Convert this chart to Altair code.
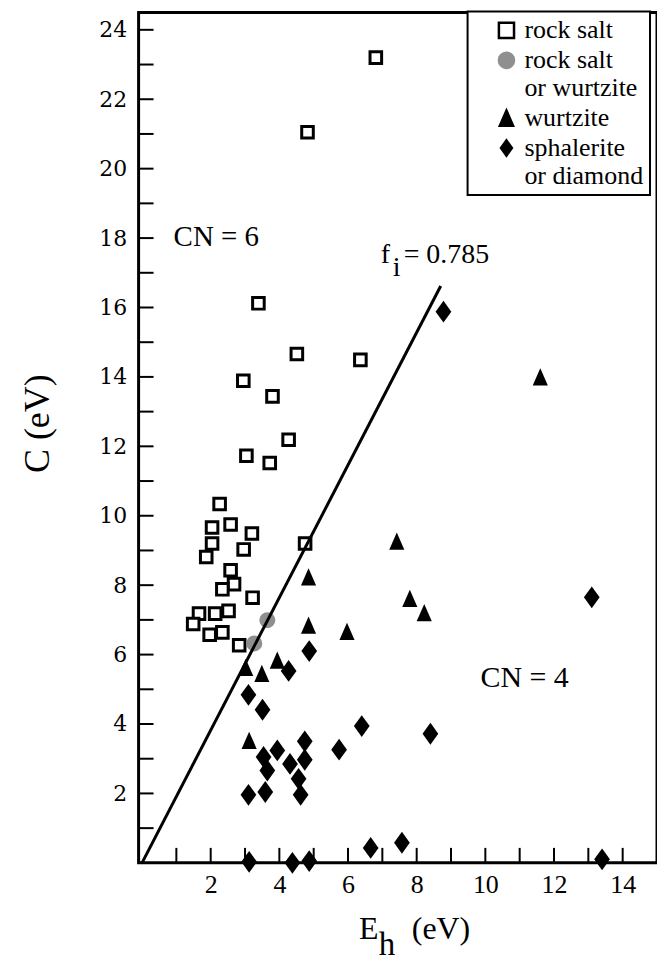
import altair as alt
import pandas as pd

# ---- data ----
rs_x = [6.81, 4.82, 3.39, 4.51, 6.36, 2.95, 3.80, 4.27, 3.04, 3.72, 2.26, 2.04, 2.58, 3.20, 2.04,
        4.75, 2.96, 1.87, 2.58, 2.68, 2.34, 3.22, 2.52, 2.13, 1.66, 1.49, 2.34, 1.97, 2.83]
rs_y = [23.2, 21.05, 16.12, 14.66, 14.49, 13.89, 13.44, 12.19, 11.73, 11.52, 10.34, 9.66, 9.75, 9.49, 9.20,
        9.20, 9.03, 8.81, 8.43, 8.03, 7.88, 7.64, 7.26, 7.18, 7.18, 6.88, 6.64, 6.57, 6.27]

rw_x = [3.65, 3.27]
rw_y = [6.99, 6.32]

wz_x = [4.85, 7.42, 7.80, 8.22, 4.85, 5.97, 3.94, 3.02, 3.49, 11.6, 3.12]
wz_y = [8.24, 9.27, 7.62, 7.21, 6.85, 6.67, 5.84, 5.63, 5.46, 14.0, 3.53]

sp_x = [8.78, 13.1, 4.87, 4.27, 3.10, 3.51, 6.40, 8.40, 4.74, 5.74, 3.94, 3.54, 4.74, 4.31, 3.65,
        4.56, 3.10, 3.59, 4.62, 6.66, 7.57, 3.12, 4.38, 4.87, 13.4]
sp_y = [15.88, 7.65, 6.10, 5.53, 4.84, 4.41, 3.94, 3.72, 3.50, 3.26, 3.24, 3.05, 2.97, 2.85, 2.66,
        2.42, 1.96, 2.04, 1.96, 0.43, 0.58, 0.03, 0.0, 0.05, 0.1]

types = ["rock salt", "rock salt|or wurtzite", "wurtzite", "sphalerite|or diamond"]

line_x = [0.0, 8.7]
line_y = [0.0, 16.62]

x_tick_vals = list(range(1, 15))
y_tick_vals = list(range(1, 25))
x_label_vals = [2, 4, 6, 8, 10, 12, 14]
y_label_vals = [2, 4, 6, 8, 10, 12, 14, 16, 18, 20, 22, 24]

rows = []
for xs_, ys_, t in [(rs_x, rs_y, types[0]), (rw_x, rw_y, types[1]),
                    (wz_x, wz_y, types[2]), (sp_x, sp_y, types[3])]:
    for a, b in zip(xs_, ys_):
        rows.append({"Eh": a, "C": b, "type": t})
df = pd.DataFrame(rows)

W, H = 520, 853
SERIF = "Liberation Serif"
xsc = alt.Scale(domain=[-0.1, 15.0], nice=False, zero=False)
ysc = alt.Scale(domain=[0, 24.5], nice=False, zero=False)

TRI = "M0,-1L0.875,1L-0.875,1Z"
DIA = "M0,-1L0.72,0L0,1L-0.72,0Z"
shape_range = ["square", "circle", TRI, DIA]
fill_range = ["white", "#8f8f8f", "black", "black"]
stroke_range = ["black", "#8f8f8f", "black", "black"]
mark_size = [135, 256, 300, 480]
mark_sw = [3, 0, 0, 0]

leg = alt.Legend(title=None, orient="none", legendX=330, legendY=-1,
                 labelExpr="split(datum.label, '|')")

x_enc = alt.X("Eh:Q", scale=xsc, axis=alt.Axis(values=x_label_vals, ticks=False, domain=False, grid=False,
                                               labelFont=SERIF, labelFontSize=26, labelColor="black",
                                               labelPadding=9, title=None))
y_enc = alt.Y("C:Q", scale=ysc, axis=alt.Axis(values=y_label_vals, ticks=False, domain=False, grid=False,
                                              labelFont="DejaVu Serif", labelFontSize=22, labelColor="black",
                                              labelPadding=12, title="C (eV)", titleFont=SERIF,
                                              titleFontSize=36, titleFontWeight="normal",
                                              titleColor="black", titlePadding=42, titleY=412))

point_layers = []
for i, t in enumerate(types):
    point_layers.append(
        alt.Chart(df).transform_filter(alt.datum.type == t).mark_point(
            filled=False, opacity=1, size=mark_size[i], strokeWidth=mark_sw[i]).encode(
            x=x_enc, y=y_enc,
            shape=alt.Shape("type:N", scale=alt.Scale(domain=types, range=shape_range), legend=leg),
            fill=alt.Fill("type:N", scale=alt.Scale(domain=types, range=fill_range), legend=leg),
            stroke=alt.Stroke("type:N", scale=alt.Scale(domain=types, range=stroke_range), legend=leg),
        )
    )

fit_line = alt.Chart(pd.DataFrame({"Eh": line_x, "C": line_y})).mark_line(
    color="black", strokeWidth=3).encode(x=alt.X("Eh:Q", scale=xsc), y=alt.Y("C:Q", scale=ysc))

xticks = alt.Chart(pd.DataFrame({"t": x_tick_vals})).mark_rule(color="black", strokeWidth=2).encode(
    x=alt.X("t:Q", scale=xsc), y=alt.value(H), y2=alt.value(H - 15))
yticks = alt.Chart(pd.DataFrame({"t": y_tick_vals})).mark_rule(color="black", strokeWidth=2).encode(
    y=alt.Y("t:Q", scale=ysc), x=alt.value(0), x2=alt.value(15))

one = pd.DataFrame({"a": [0]})

def txt(s, x, y, size):
    return alt.Chart(one).mark_text(text=s, font=SERIF, fontSize=size, align="left",
                                    baseline="alphabetic", color="black").encode(x=x, y=y)

annots = [
    txt("CN = 6", alt.datum(0.92), alt.datum(17.77), 29),
    txt("CN = 4", alt.datum(9.86), alt.datum(5.08), 30),
    txt("f", alt.datum(6.95), alt.datum(17.28), 28),
    txt("i", alt.datum(7.30), alt.datum(16.90), 28),
    txt("= 0.785", alt.datum(7.62), alt.datum(17.28), 28),
    txt("E", alt.value(221), alt.value(H + 76), 32),
    txt("h", alt.value(241), alt.value(H + 92), 33),
    txt("(eV)", alt.value(274), alt.value(H + 76), 32),
]

chart = alt.layer(*point_layers, fit_line, xticks, yticks, *annots).properties(
    width=W, height=H, padding={"left": 12, "top": 1, "right": 0, "bottom": 5}
).configure_view(stroke="black", strokeWidth=3).configure_legend(
    strokeWidth=2, strokeColor="black", fillColor="white", padding=6,
    labelFont=SERIF, labelFontSize=26, labelColor="black", labelOffset=5, labelLimit=300,
    symbolSize=230, symbolStrokeWidth=2.5, symbolOffset=20, rowPadding=4, cornerRadius=0
)

chart.save("out.html", embed_options={"renderer": "svg", "actions": False})
